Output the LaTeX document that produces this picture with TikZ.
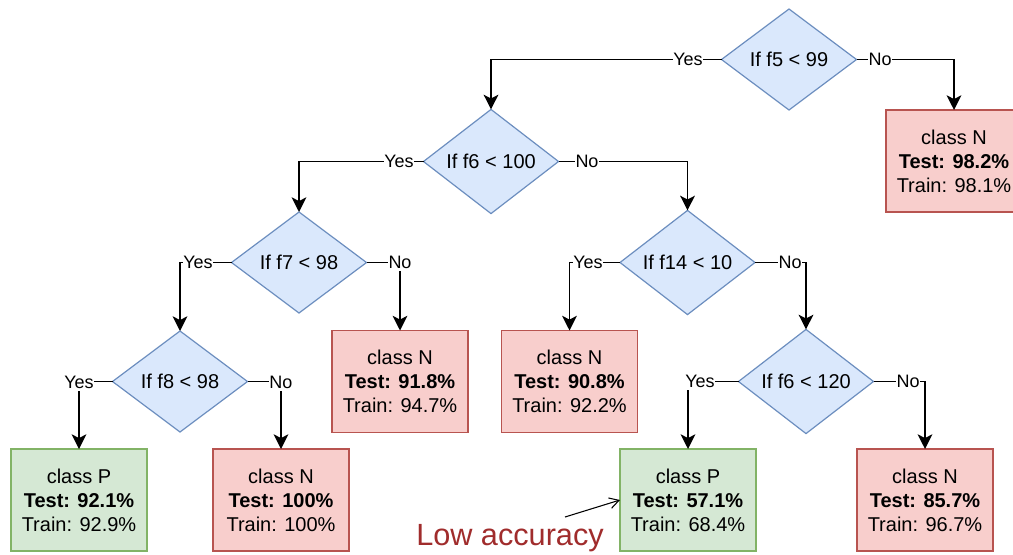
\documentclass[tikz,border=0pt]{standalone}
\usepackage{fontspec}
\setmainfont{Liberation Sans}
\usetikzlibrary{shapes.geometric,arrows.meta}

\definecolor{qfill}{HTML}{DAE8FC}
\definecolor{qline}{HTML}{6C8EBF}
\definecolor{nfill}{HTML}{F8CECC}
\definecolor{nline}{HTML}{B85450}
\definecolor{pfill}{HTML}{D5E8D4}
\definecolor{pline}{HTML}{82B366}
\definecolor{warn}{RGB}{160,44,44}

\tikzset{
  question/.style={shape=diamond, draw=qline, fill=qfill, line width=0.9pt,
    inner sep=0pt, outer sep=0pt, minimum width=101.25pt, minimum height=75.75pt,
    font=\fontsize{15}{18}\selectfont},
  leaf/.style={shape=rectangle, line width=0.9pt, inner sep=0pt, outer sep=0pt,
    minimum width=102pt, minimum height=76.5pt, align=center,
    font=\fontsize{15}{18}\selectfont},
  leafn/.style={leaf, draw=nline, fill=nfill},
  leafp/.style={leaf, draw=pline, fill=pfill},
  branch/.style={line width=1.35pt, -{Stealth[length=11pt, width=11pt, inset=2.8pt]}},
  edgelabel/.style={fill=white, inner xsep=0.5pt, inner ysep=2pt,
    font=\fontsize{13.5}{16}\selectfont},
  pointer/.style={line width=0.8pt, -{Straight Barb[length=7pt, width=8pt]}},
}

\begin{document}
\begin{tikzpicture}[x=0.75pt, y=-0.75pt]
\useasboundingbox (0,0) rectangle (1013,554);

% decision nodes
\node[question] (d1) at (789,59.5) {If f5 < 99};
\node[question] (d2) at (491,161.5) {If f6 < 100};
\node[question] (d3) at (299,262.5) {If f7 < 98};
\node[question] (d4) at (180,381.5) {If f8 < 98};
\node[question] (d5) at (687.5,262.5) {If f14 < 10};
\node[question] (d6) at (806,381.5) {If f6 < 120};

% leaves
\node[leafn] (n1) at (954,161) {class N\\\textbf{Test: 98.2\%}\\Train: 98.1\%};
\node[leafn] (n2) at (400,381.5) {class N\\\textbf{Test: 91.8\%}\\Train: 94.7\%};
\node[leafn] (n3) at (569.5,381.5) {class N\\\textbf{Test: 90.8\%}\\Train: 92.2\%};
\node[leafp] (p1) at (79,500) {class P\\\textbf{Test: 92.1\%}\\Train: 92.9\%};
\node[leafn] (n4) at (281,500) {class N\\\textbf{Test: 100\%}\\Train: 100\%};
\node[leafp] (p2) at (688,500) {class P\\\textbf{Test: 57.1\%}\\Train: 68.4\%};
\node[leafn] (n5) at (925,500) {class N\\\textbf{Test: 85.7\%}\\Train: 96.7\%};

% branches
\draw[branch] (d1.west) -| (d2.north);
\draw[branch] (d1.east) -| (n1.north);
\draw[branch] (d2.west) -| (d3.north);
\draw[branch] (d2.east) -| (d5.north);
\draw[branch] (d3.west) -| (d4.north);
\draw[branch] (d3.east) -| (n2.north);
\draw[branch] (d4.west) -| (p1.north);
\draw[branch] (d4.east) -| (n4.north);
\draw[branch] (d5.west) -| (n3.north);
\draw[branch] (d5.east) -| (d6.north);
\draw[branch] (d6.west) -| (p2.north);
\draw[branch] (d6.east) -| (n5.north);

% branch labels
\node[edgelabel] (y1) at (688,59.5) {Yes};
\node[edgelabel] (o1) at (880,59.5) {No};
\node[edgelabel] (y2) at (399,161.5) {Yes};
\node[edgelabel] (o2) at (587,161.5) {No};
\node[edgelabel] (y3) at (198,262.5) {Yes};
\node[edgelabel] (o3) at (400,262.5) {No};
\node[edgelabel] (y4) at (79,382) {Yes};
\node[edgelabel] (o4) at (281,382) {No};
\node[edgelabel] (y5) at (588,262.5) {Yes};
\node[edgelabel] (o5) at (790,262.5) {No};
\node[edgelabel] (y6) at (700,381.5) {Yes};
\node[edgelabel] (o6) at (908,381.5) {No};

% annotation
\node[text=warn, font=\fontsize{23}{27}\selectfont, inner sep=0pt] (low) at (510,538) {Low accuracy};
\coordinate (lowtail) at (565,517);
\draw[pointer] (lowtail) -- (p2.west);
\end{tikzpicture}
\end{document}
